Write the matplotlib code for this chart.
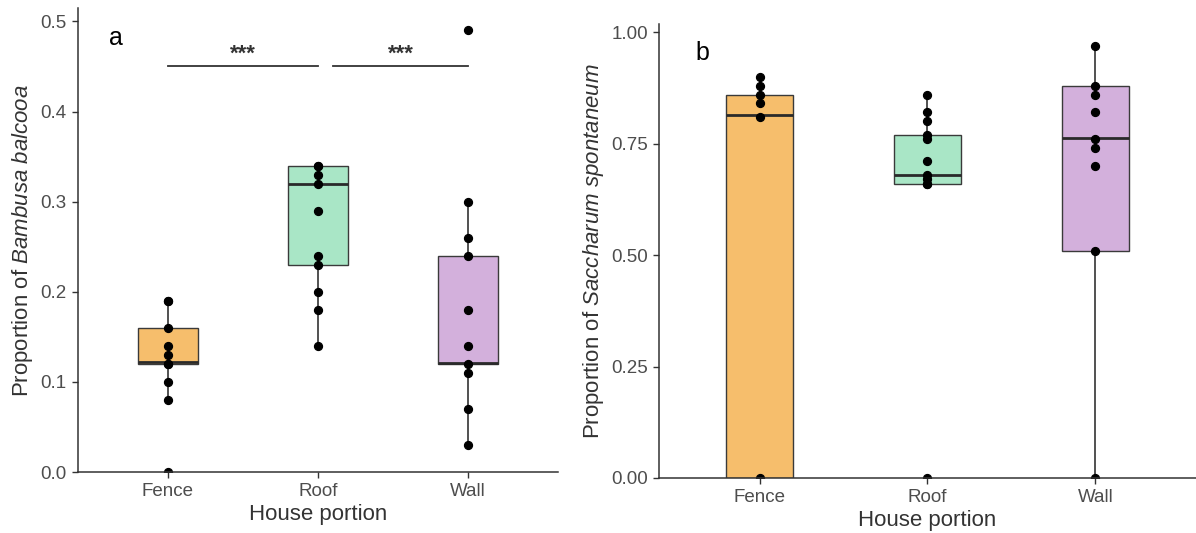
import numpy as np
import matplotlib
matplotlib.use("Agg")
import matplotlib.pyplot as plt

plt.rcParams['font.family'] = ['Liberation Sans', 'DejaVu Sans']
plt.rcParams['mathtext.fontset'] = 'custom'
plt.rcParams['mathtext.rm'] = 'Liberation Sans'
plt.rcParams['mathtext.it'] = 'Liberation Sans:italic'

portions = ['Fence', 'Roof', 'Wall']
colors = ['#F6BE6C', '#A9E6C6', '#D3B0DC']

# panel a: Bambusa balcooa
a_points = [
    [0.19, 0.19, 0.16, 0.14, 0.13, 0.12, 0.12, 0.10, 0.08, 0.0],
    [0.34, 0.34, 0.33, 0.32, 0.29, 0.24, 0.23, 0.20, 0.18, 0.14],
    [0.49, 0.30, 0.26, 0.24, 0.18, 0.14, 0.12, 0.11, 0.07, 0.03],
]
a_q1 = [0.12, 0.23, 0.12]
a_med = [0.122, 0.32, 0.121]
a_q3 = [0.16, 0.34, 0.24]
a_lo = [0.08, 0.14, 0.03]
a_hi = [0.19, 0.34, 0.30]
a_yticks = [0.0, 0.1, 0.2, 0.3, 0.4, 0.5]

# panel b: Saccharum spontaneum
b_points = [
    [0.90, 0.88, 0.86, 0.84, 0.81, 0.0],
    [0.86, 0.82, 0.80, 0.77, 0.76, 0.71, 0.68, 0.67, 0.66, 0.66, 0.0],
    [0.97, 0.88, 0.86, 0.82, 0.76, 0.74, 0.70, 0.51, 0.0],
]
b_q1 = [0.0, 0.66, 0.51]
b_med = [0.814, 0.68, 0.763]
b_q3 = [0.86, 0.77, 0.88]
b_lo = [0.0, 0.66, 0.0]
b_hi = [0.90, 0.86, 0.97]
b_yticks = [0.0, 0.25, 0.50, 0.75, 1.00]

# significance brackets (panel a)
sig_x = [(1, 2), (2.1, 3)]
sig_y = 0.45
sig_text = ['***', '***']


def panel(ax, points, q1, med, q3, lo, hi, yticks, fmt, ylabel, tag):
    stats = []
    for i in range(3):
        stats.append(dict(q1=q1[i], med=med[i], q3=q3[i], whislo=lo[i], whishi=hi[i]))
    bp = ax.bxp(stats, positions=[1, 2, 3], widths=0.4, showfliers=False,
                showcaps=False, patch_artist=True,
                boxprops=dict(edgecolor='#3a3a3a', linewidth=1.0),
                whiskerprops=dict(color='#222222', linewidth=1.1),
                medianprops=dict(color='#2a2a2a', linewidth=2.0))
    for patch, c in zip(bp['boxes'], colors):
        patch.set_facecolor(c)
    for i, vals in enumerate(points):
        ax.scatter(np.full(len(vals), i + 1), vals, s=32, color='black', zorder=4)

    top = max(max(v) for v in points)
    ax.set_ylim(0, top * 1.05)
    ax.set_xlim(0.4, 3.6)
    ax.set_xticks([1, 2, 3])
    ax.set_xticklabels(portions)
    ax.set_yticks(yticks)
    ax.set_yticklabels([fmt % t for t in yticks])
    for s in ['top', 'right']:
        ax.spines[s].set_visible(False)
    for s in ['left', 'bottom']:
        ax.spines[s].set_color('#333333')
        ax.spines[s].set_linewidth(1.1)
        ax.spines[s].set_zorder(5)
    ax.tick_params(colors='#333333', labelcolor='#4d4d4d', labelsize=13.5, length=4,
                   width=1, pad=4)
    ax.set_xlabel('House portion', fontsize=16, color='#333333', labelpad=3)
    ax.set_ylabel(ylabel, fontsize=16, color='#333333', labelpad=4)
    ax.text(0.08, 0.935, tag, transform=ax.transAxes, fontsize=18, ha='center', va='center')


fig = plt.figure(figsize=(11.96, 5.33), dpi=100)
ax1 = fig.add_axes([0.0652, 0.1144, 0.4014, 0.870])
ax2 = fig.add_axes([0.551, 0.1032, 0.449, 0.852])

panel(ax1, a_points, a_q1, a_med, a_q3, a_lo, a_hi, a_yticks, '%.1f',
      r'Proportion of $\mathit{Bambusa\ balcooa}$', 'a')
panel(ax2, b_points, b_q1, b_med, b_q3, b_lo, b_hi, b_yticks, '%.2f',
      r'Proportion of $\mathit{Saccharum\ spontaneum}$', 'b')

for (x0, x1), t in zip(sig_x, sig_text):
    ax1.plot([x0, x1], [sig_y, sig_y], color='#333333', linewidth=1.3)
    ax1.text((x0 + x1) / 2, sig_y + 0.002, t, ha='center', va='bottom',
             fontsize=16, fontweight='bold', color='#333333')

fig.savefig('out.png', dpi=100)
